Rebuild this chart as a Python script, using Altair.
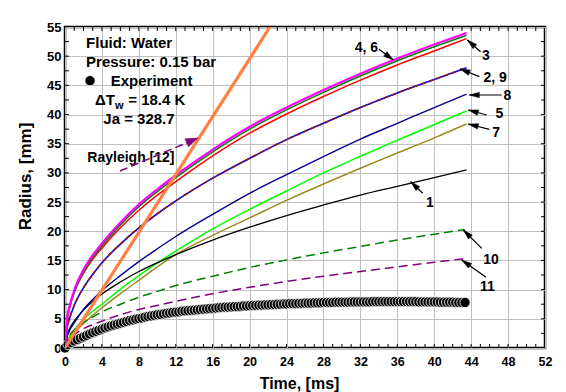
import math
import altair as alt
import pandas as pd

# ---------------------------------------------------------------- layout
W, H = 480, 321            # plot area in px
X_MAX, Y_MAX = 52, 55
FONT = "Liberation Sans"
PX_PER_MS = W / X_MAX
PX_PER_MM = H / Y_MAX

# ---------------------------------------------------------------- data
# model curves: bubble radius (mm) versus time (ms)
t_model = [0, 0.25, 0.5, 1, 2, 3, 4, 6, 8, 10, 12, 16, 20, 24, 28, 32, 36, 40, 43.5]
t_dash = [0, 0.25, 0.5, 1, 2, 3, 4, 6, 8, 10, 12, 16, 20, 24, 28, 32, 36, 40, 43.3]

r_model_4 = [0, 5.3, 7.2, 9.9, 13.4, 15.9, 17.9, 21.5, 24.6, 27.2, 29.6, 34.0, 37.9, 41.2, 44.2, 47.0, 49.6, 52.0, 54.0]
r_model_6 = [0, 5.1, 7.0, 9.6, 13.0, 15.5, 17.5, 21.1, 24.2, 26.8, 29.2, 33.6, 37.5, 40.8, 43.8, 46.6, 49.2, 51.6, 53.6]
r_model_3 = [0, 5.0, 6.9, 9.5, 12.8, 15.2, 17.1, 20.6, 23.6, 26.2, 28.5, 32.9, 36.8, 40.1, 43.1, 45.9, 48.5, 50.9, 53.0]
r_model_2 = [0, 3.6, 5.1, 7.3, 10.3, 12.6, 14.6, 17.8, 20.6, 23.0, 25.2, 29.1, 32.5, 35.7, 38.5, 41.2, 43.7, 46.0, 48.0]
r_model_9 = [0, 3.6, 5.1, 7.3, 10.3, 12.6, 14.6, 17.8, 20.6, 23.0, 25.2, 29.1, 32.5, 35.7, 38.5, 41.2, 43.7, 46.0, 48.0]
r_model_8 = [0, 2.0, 3.0, 4.3, 6.6, 8.3, 9.8, 12.4, 14.8, 17.0, 19.1, 22.9, 26.5, 29.7, 32.8, 35.8, 38.5, 41.2, 43.5]
r_model_5 = [0, 1.3, 2.0, 3.1, 4.9, 6.3, 7.5, 10.1, 12.4, 14.6, 16.6, 20.4, 23.75, 26.9, 30.0, 32.85, 35.6, 38.3, 40.6]
r_model_7 = [0, 1.0, 1.6, 2.6, 4.2, 5.6, 6.9, 9.3, 11.6, 13.9, 16.0, 19.3, 22.3, 25.3, 28.1, 30.8, 33.4, 36.0, 38.4]
r_model_1 = [0, 2.3, 3.3, 4.6, 6.5, 8.0, 9.25, 11.3, 13.1, 14.6, 16.0, 18.5, 20.7, 22.7, 24.5, 26.2, 27.7, 29.2, 30.5]
r_model_10 = [0, 1.5, 2.2, 3.1, 4.35, 5.3, 6.2, 7.5, 8.7, 9.7, 10.7, 12.3, 13.8, 15.1, 16.3, 17.4, 18.5, 19.5, 20.3]
r_model_11 = [0, 1.2, 1.6, 2.3, 3.3, 4.0, 4.6, 5.7, 6.6, 7.3, 8.0, 9.3, 10.4, 11.4, 12.3, 13.1, 13.9, 14.7, 15.3]

# Rayleigh solution (linear growth)
t_rayleigh = [0, 22.2]
r_rayleigh = [0, 55.0]

# experiment: one frame every 1/3 ms
r_exp = [
    0.0, 0.6, 0.95, 1.2, 1.45, 1.7, 1.9, 2.15, 2.4, 2.65,
    2.85, 3.05, 3.25, 3.45, 3.6, 3.8, 3.95, 4.1, 4.25, 4.4,
    4.55, 4.7, 4.8, 4.95, 5.05, 5.15, 5.3, 5.4, 5.5, 5.6,
    5.7, 5.75, 5.85, 5.95, 6.0, 6.1, 6.15, 6.2, 6.3, 6.35,
    6.4, 6.45, 6.5, 6.55, 6.6, 6.65, 6.7, 6.75, 6.8, 6.85,
    6.9, 6.95, 7.0, 7.0, 7.05, 7.1, 7.1, 7.15, 7.2, 7.2,
    7.25, 7.3, 7.3, 7.35, 7.35, 7.4, 7.4, 7.45, 7.45, 7.5,
    7.5, 7.55, 7.55, 7.6, 7.6, 7.6, 7.65, 7.65, 7.7, 7.7,
    7.7, 7.75, 7.75, 7.75, 7.8, 7.8, 7.8, 7.8, 7.85, 7.85,
    7.85, 7.85, 7.85, 7.9, 7.9, 7.9, 7.9, 7.9, 7.9, 7.9,
    7.95, 7.95, 7.95, 7.95, 7.95, 7.95, 7.95, 7.95, 7.95, 7.95,
    7.95, 7.95, 7.95, 7.95, 7.95, 7.9, 7.9, 7.9, 7.9, 7.9,
    7.9, 7.9, 7.85, 7.85, 7.85, 7.85, 7.85, 7.8, 7.8, 7.8,
    7.8,
]
t_exp = [i / 3 for i in range(len(r_exp))]

# curve styling: (times, radii, colour, width, dash) in drawing order
curves = [
    (t_model, r_model_5, "#00ff00", 1.5, None),
    (t_model, r_model_7, "#9a8a20", 1.5, None),
    (t_model, r_model_1, "#000000", 1.3, None),
    (t_model, r_model_8, "#00008b", 1.4, None),
    (t_dash, r_model_10, "#008000", 1.5, [9, 5]),
    (t_dash, r_model_11, "#800080", 1.5, [9, 5]),
    (t_model, r_model_2, "#0000ff", 1.6, None),
    (t_model, r_model_9, "#8b1a1a", 1.6, [5, 3]),
    (t_model, r_model_3, "#ff0000", 1.5, None),
    (t_model, r_model_6, "#008000", 1.6, None),
    (t_model, r_model_4, "#ff00ff", 2.2, None),
    (t_rayleigh, r_rayleigh, "#ff8040", 3.2, None),
]

# text block in the upper-left corner
legend_labels = ["Fluid: Water", "Pressure: 0.15 bar", "Experiment", "\u0394T", "= 18.4 K", "Ja = 328.7"]
legend_t = [2.28, 2.28, 4.95, 3.25, 6.85, 4.15]
legend_r = [51.35, 48.2, 44.95, 41.6, 41.6, 38.4]

# curve numbers and their pointer arrows (tail -> tip)
num_labels = ["4, 6", "3", "2, 9", "8", "5", "7", "1", "10", "11"]
num_t = [32.66, 45.61, 46.59, 47.92, 47.07, 46.70, 39.54, 46.15, 45.75]
num_r = [51.35, 50.03, 46.21, 43.18, 40.10, 36.89, 24.90, 15.08, 10.50]
arrow_t0 = [34.02, 45.02, 44.89, 47.31, 45.69, 45.97, 38.75, 45.15, 45.61]
arrow_r0 = [51.18, 50.77, 46.49, 43.35, 39.92, 37.47, 26.51, 17.08, 12.11]
arrow_t1 = [35.57, 43.59, 42.80, 43.80, 43.69, 43.69, 37.45, 43.15, 42.98]
arrow_r1 = [49.35, 52.78, 47.81, 43.35, 40.78, 38.38, 28.50, 20.22, 15.08]

# Rayleigh pointer
ray_t0, ray_r0, ray_t1, ray_r1 = 5.96, 30.33, 14.41, 35.98

x_ticks = list(range(0, 53, 4))
y_ticks = list(range(0, 56, 5))
x_minor = list(range(1, 52))
y_minor = [2.5 * k for k in range(1, 22)]

# ---------------------------------------------------------------- helpers
xs = alt.Scale(domain=[0, X_MAX], nice=False, zero=False)
ys = alt.Scale(domain=[0, Y_MAX], nice=False, zero=False)
x_axis = alt.Axis(values=x_ticks, title="Time, [ms]", grid=True, labelFontSize=12.5,
                  labelPadding=7, titleFontSize=16, titleX=234, titleY=40,
                  titleBaseline="alphabetic", labelFlush=False)
y_axis = alt.Axis(values=y_ticks, title="Radius, [mm]", grid=True, labelFontSize=13,
                  labelPadding=4, titleFontSize=17, titleAngle=270, titleX=-40, titleY=149,
                  titleAlign="center", titleBaseline="middle", labelFlush=False)


def X(field):
    return alt.X(f"{field}:Q", scale=xs, axis=x_axis)


def Y(field):
    return alt.Y(f"{field}:Q", scale=ys, axis=y_axis)


def head_angle(t0, r0, t1, r1):
    dx = (t1 - t0) * PX_PER_MS
    dy = -(r1 - r0) * PX_PER_MM
    return math.degrees(math.atan2(dx, -dy)) % 360


ARROW_PATH = "M0,0L0.55,2L-0.55,2Z"

layers = []

# inward minor ticks on all four sides
bx = pd.DataFrame({"t": x_minor})
by = pd.DataFrame({"r": y_minor})
tick_style = dict(color="black", strokeWidth=1)
layers.append(alt.Chart(bx).mark_rule(**tick_style).encode(x=X("t"), y=alt.value(H), y2=alt.value(H - 4)))
layers.append(alt.Chart(bx).mark_rule(**tick_style).encode(x=X("t"), y=alt.value(0), y2=alt.value(4)))
layers.append(alt.Chart(by).mark_rule(**tick_style).encode(y=Y("r"), x=alt.value(0), x2=alt.value(4)))
layers.append(alt.Chart(by).mark_rule(**tick_style).encode(y=Y("r"), x=alt.value(W), x2=alt.value(W - 4)))

# experimental points
exp_df = pd.DataFrame({"t": t_exp, "r": r_exp})
dot_style = dict(shape="circle", filled=True, fill="black", stroke="white",
                 strokeWidth=0.8, opacity=1, size=105)
layers.append(alt.Chart(exp_df).mark_point(**dot_style).encode(x=X("t"), y=Y("r")))

# model curves
for tt, rr, col, wd, dash in curves:
    df = pd.DataFrame({"t": tt, "r": rr})
    kw = dict(color=col, strokeWidth=wd, interpolate="monotone", clip=True)
    if dash:
        kw["strokeDash"] = dash
    layers.append(alt.Chart(df).mark_line(**kw).encode(x=X("t"), y=Y("r")))

# legend text block
leg_df = pd.DataFrame({"t": legend_t, "r": legend_r, "label": legend_labels})
layers.append(alt.Chart(leg_df).mark_text(align="left", baseline="alphabetic", font=FONT,
                                          fontWeight="bold", fontSize=15, color="black")
              .encode(x=X("t"), y=Y("r"), text="label:N"))
sub_df = pd.DataFrame({"t": [5.42], "r": [40.9], "label": ["w"]})
layers.append(alt.Chart(sub_df).mark_text(align="left", baseline="alphabetic", font=FONT,
                                          fontWeight="bold", fontSize=11, color="black")
              .encode(x=X("t"), y=Y("r"), text="label:N"))
leg_dot = pd.DataFrame({"t": [2.71], "r": [45.8]})
layers.append(alt.Chart(leg_dot).mark_point(**dot_style).encode(x=X("t"), y=Y("r")))
ray_df = pd.DataFrame({"t": [2.42], "r": [31.9], "label": ["Rayleigh [12]"]})
layers.append(alt.Chart(ray_df).mark_text(align="left", baseline="alphabetic", font=FONT,
                                          fontWeight="bold", fontSize=14, color="black")
              .encode(x=X("t"), y=Y("r"), text="label:N"))

# Rayleigh pointer (dashed purple)
ray_arrow = pd.DataFrame({"t": [ray_t0], "r": [ray_r0], "t2": [ray_t1], "r2": [ray_r1],
                          "ang": [head_angle(ray_t0, ray_r0, ray_t1, ray_r1)]})
layers.append(alt.Chart(ray_arrow).mark_rule(color="#800080", strokeWidth=1.5, strokeDash=[8, 4])
              .encode(x=X("t"), y=Y("r"), x2="t2:Q", y2="r2:Q"))
layers.append(alt.Chart(ray_arrow).mark_point(shape="M0,0L0.7,2L-0.7,2Z", filled=True, fill="#800080",
                                              stroke="#800080", strokeWidth=0.5, size=150, opacity=1)
              .encode(x=alt.X("t2:Q", scale=xs, axis=x_axis), y=alt.Y("r2:Q", scale=ys, axis=y_axis),
                      angle=alt.Angle("ang:Q", scale=None)))

# curve number pointers
arr_df = pd.DataFrame({
    "t": arrow_t0, "r": arrow_r0, "t2": arrow_t1, "r2": arrow_r1,
    "ang": [head_angle(a, b, c, d) for a, b, c, d in zip(arrow_t0, arrow_r0, arrow_t1, arrow_r1)],
})
layers.append(alt.Chart(arr_df).mark_rule(color="black", strokeWidth=1.2)
              .encode(x=X("t"), y=Y("r"), x2="t2:Q", y2="r2:Q"))
layers.append(alt.Chart(arr_df).mark_point(shape=ARROW_PATH, filled=True, fill="black",
                                           stroke="black", strokeWidth=0.5, size=100, opacity=1)
              .encode(x=alt.X("t2:Q", scale=xs, axis=x_axis), y=alt.Y("r2:Q", scale=ys, axis=y_axis),
                      angle=alt.Angle("ang:Q", scale=None)))

num_df = pd.DataFrame({"t": num_t, "r": num_r, "label": num_labels})
layers.append(alt.Chart(num_df).mark_text(align="center", baseline="middle", font=FONT,
                                          fontWeight="bold", fontSize=14, color="black")
              .encode(x=X("t"), y=Y("r"), text="label:N"))

chart = (
    alt.layer(*layers)
    .properties(width=W, height=H, padding={"left": 65, "top": 27, "right": 21, "bottom": 44},
                autosize=alt.AutoSizeParams(type="none"), background="white")
    .configure_view(stroke="black", strokeWidth=2.5)
    .configure_axis(labelFont=FONT, labelFontWeight="bold", labelColor="black",
                    titleFont=FONT, titleFontWeight="bold", titleColor="black",
                    gridColor="#c0c0c0", gridWidth=1, domain=False, ticks=False)
)

chart.save("out.html", embed_options={"renderer": "svg", "actions": False})
